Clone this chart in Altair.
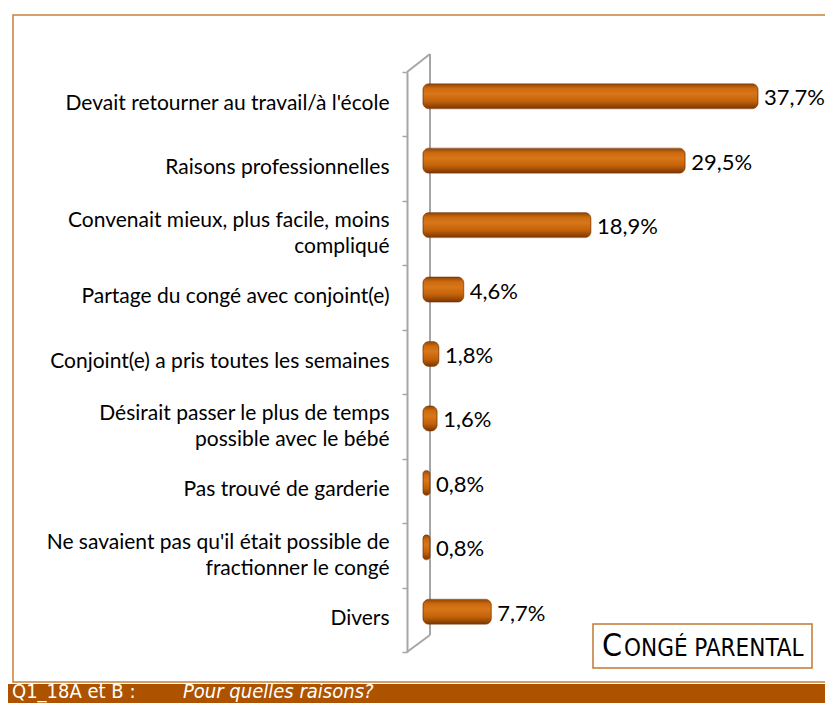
import altair as alt
import pandas as pd

categories = [
    "Devait retourner au travail/à l'école",
    "Raisons professionnelles",
    "Convenait mieux, plus facile, moins|compliqué",
    "Partage du congé avec conjoint(e)",
    "Conjoint(e) a pris toutes les semaines",
    "Désirait passer le plus de temps|possible avec le bébé",
    "Pas trouvé de garderie",
    "Ne savaient pas qu'il était possible de|fractionner le congé",
    "Divers",
]
values = [37.7, 29.5, 18.9, 4.6, 1.8, 1.6, 0.8, 0.8, 7.7]
value_labels = [f"{v:.1f}".replace(".", ",") + "%" for v in values]

footer_code = "Q1_18A et B :"
footer_question = "Pour quelles raisons?"
badge_first = "C"
badge_rest = "ONGÉ PARENTAL"

df = pd.DataFrame({"cat": categories, "val": values, "lab": value_labels})
one = pd.DataFrame({"k": [0]})

GRAY = "#A6A6A6"
ORANGE_LINE = "#C8803A"
FOOTER = "#AD5300"
LABEL_FONT = "Lato"
NARROW = "Liberation Sans Narrow, DejaVu Sans Condensed, sans-serif"

bar_fill = alt.Gradient(
    gradient="linear",
    stops=[
        alt.GradientStop(color="#8E4406", offset=0),
        alt.GradientStop(color="#CA690E", offset=0.18),
        alt.GradientStop(color="#D87619", offset=0.4),
        alt.GradientStop(color="#C46209", offset=0.7),
        alt.GradientStop(color="#7A3602", offset=1),
    ],
    x1=0, x2=0, y1=0, y2=1,
)

y_enc = alt.Y(
    "cat:N",
    sort=categories,
    scale=alt.Scale(paddingInner=0, paddingOuter=0),
    axis=alt.Axis(
        title=None,
        orient="left",
        offset=8,
        domain=True,
        domainColor=GRAY,
        domainWidth=2,
        ticks=True,
        tickBand="extent",
        tickSize=5,
        tickColor=GRAY,
        tickWidth=1.5,
        labelPadding=13,
        labelFont=LABEL_FONT,
        labelFontSize=21,
        labelColor="#000000",
        labelExpr="split(datum.label, '|')",
        labelLineHeight=26,
        labelOffset={"condition": {"test": "indexof(datum.label, '|') >= 0", "value": -13}, "value": -1},
        labelLimit=400,
        grid=False,
    ),
)
x_scale = alt.Scale(domain=[-0.889, 45.23], nice=False, zero=False)

frame = alt.Chart(one).mark_rect(fillOpacity=0, stroke=ORANGE_LINE, strokeWidth=1.5).encode(
    x=alt.value(-402), x2=alt.value(440), y=alt.value(-57), y2=alt.value(610)
)
footer_bar = alt.Chart(one).mark_rect(fill=FOOTER).encode(
    x=alt.value(-408), x2=alt.value(420), y=alt.value(612), y2=alt.value(640)
)
footer_t1 = alt.Chart(one).mark_text(
    align="left", baseline="alphabetic", font=NARROW, fontSize=20, color="#FFFFFF"
).encode(x=alt.value(-403), y=alt.value(626), text=alt.value(footer_code))
footer_t2 = alt.Chart(one).mark_text(
    align="left", baseline="alphabetic", font=NARROW, fontSize=20, fontStyle="italic", color="#FFFFFF"
).encode(x=alt.value(-232), y=alt.value(626), text=alt.value(footer_question))

back_line = alt.Chart(one).mark_rule(color=GRAY, strokeWidth=2).encode(
    x=alt.value(15), y=alt.value(-18), y2=alt.value(563)
)
top_diag = alt.Chart(one).mark_rule(color=GRAY, strokeWidth=2).encode(
    x=alt.value(-8), y=alt.value(0), x2=alt.value(15), y2=alt.value(-18)
)
bot_diag = alt.Chart(one).mark_rule(color=GRAY, strokeWidth=2).encode(
    x=alt.value(-8), y=alt.value(580), x2=alt.value(15), y2=alt.value(563)
)

bars = alt.Chart(df).mark_bar(
    height=25, yOffset=-8, cornerRadius=6, color=bar_fill, stroke="#7A3602", strokeWidth=0.6
).encode(
    y=y_enc,
    x=alt.X("val:Q", scale=x_scale, axis=None),
    x2=alt.value(0),
)
labels = alt.Chart(df).mark_text(
    align="left", baseline="middle", dx=6, yOffset=-6, font=LABEL_FONT, fontSize=22, color="#000000"
).encode(
    y=alt.Y("cat:N", sort=categories),
    x=alt.X("val:Q", scale=x_scale),
    text="lab:N",
)

badge_box = alt.Chart(one).mark_rect(fill="#FFFFFF", stroke="#C07A35", strokeWidth=1.5).encode(
    x=alt.value(178), x2=alt.value(397), y=alt.value(552), y2=alt.value(596)
)
badge_c = alt.Chart(one).mark_text(
    align="left", baseline="alphabetic", font=NARROW, fontSize=32, color="#000000"
).encode(x=alt.value(187), y=alt.value(584), text=alt.value(badge_first))
badge_r = alt.Chart(one).mark_text(
    align="left", baseline="alphabetic", font=NARROW, fontSize=24, color="#000000"
).encode(x=alt.value(209), y=alt.value(584), text=alt.value(badge_rest))

chart = alt.layer(
    frame, footer_bar, footer_t1, footer_t2, back_line, top_diag, bot_diag,
    bars, labels, badge_box, badge_c, badge_r,
).properties(
    width=410,
    height=580,
    padding={"left": 407, "top": 64, "right": 0, "bottom": 51},
    autosize=alt.AutoSizeParams(type="none"),
    background="#FFFFFF",
).configure_view(stroke=None)

chart.save("out.html", embed_options={"renderer": "svg", "actions": False})
